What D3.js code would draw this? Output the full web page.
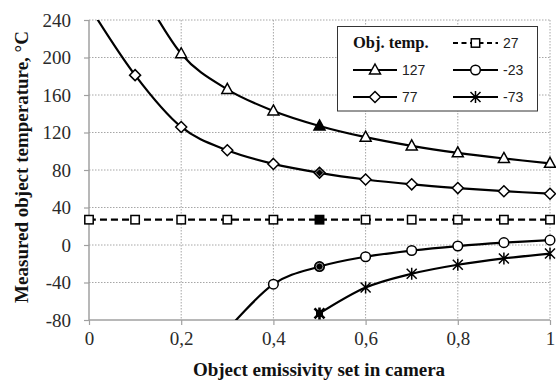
<!DOCTYPE html>
<html><head><meta charset="utf-8">
<script src="https://cdnjs.cloudflare.com/ajax/libs/d3/7.8.5/d3.min.js"></script>
<style>body{margin:0;background:#fff}svg{display:block}</style>
</head><body><svg id="c" width="556" height="381"></svg>
<script>
// ---- data ----
const emissivity = [0, 0.1, 0.2, 0.3, 0.4, 0.5, 0.6, 0.7, 0.8, 0.9, 1];
const seriesNames = ["127", "77", "27", "-23", "-73"];
const t127 = [null, 283, 204, 166, 143, 127, 115, 105.7, 98.3, 92.3, 87.1];
const t77  = [255, 181.2, 125.9, 101, 86.5, 77, 69.9, 64.7, 60.7, 57.4, 54.7];
const t27  = [27, 27, 27, 27, 27, 27, 27, 27, 27, 27, 27];
const tm23 = [null, null, null, -90.5, -41.8, -23, -12.5, -5.9, -1.1, 2.5, 5.2];
const tm73 = [null, null, null, null, null, -73, -45.4, -30.7, -21.1, -14.3, -9.1];
const markerStart = [2, 1, 0, 4, 5]; // first visible marker index per series
const trueEmissivity = 0.5;
const xTickValues = [0, 0.2, 0.4, 0.6, 0.8, 1];
const xTickLabels = ["0", "0,2", "0,4", "0,6", "0,8", "1"];
const yTickValues = [-80, -40, 0, 40, 80, 120, 160, 200, 240];
const yTickLabels = ["-80", "-40", "0", "40", "80", "120", "160", "200", "240"];
const legendTitle = "Obj. temp.";
const xTitle = "Object emissivity set in camera";
const yTitle = "Measured object temperature, °C";

const seriesValues = [t127, t77, t27, tm23, tm73];
const markerTypes = ["triangle", "diamond", "square", "circle", "star"];
const dashed = [false, false, true, false, false];

// ---- layout ----
const svg = d3.select("#c");
const L = 89, R = 550, T = 20, B = 320;
const x = d3.scaleLinear().domain([0, 1]).range([L, R]);
const y = d3.scaleLinear().domain([-80, 240]).range([B, T]);
const serif = "'Liberation Serif','Times New Roman',serif";
const sans = "'Liberation Sans',Arial,sans-serif";

svg.append("defs").append("clipPath").attr("id", "plotclip")
  .append("rect").attr("x", L).attr("y", T).attr("width", R - L).attr("height", B - T);

// grid
const grid = svg.append("g");
grid.selectAll("line.h").data(yTickValues.filter(v => v > -80)).join("line")
  .attr("x1", L).attr("x2", R).attr("y1", d => y(d)).attr("y2", d => y(d))
  .attr("stroke", "#a6a6a6").attr("stroke-width", 1).attr("stroke-dasharray", "1.5,1.5");
grid.selectAll("line.v").data(xTickValues.filter(v => v > 0)).join("line")
  .attr("x1", d => x(d)).attr("x2", d => x(d)).attr("y1", T).attr("y2", B)
  .attr("stroke", "#a6a6a6").attr("stroke-width", 1).attr("stroke-dasharray", "1.5,1.5");

// axes
const xAxis = d3.axisBottom(x).tickValues(xTickValues).tickSize(5).tickPadding(7)
  .tickFormat((d, i) => xTickLabels[i]);
const yAxis = d3.axisLeft(y).tickValues(yTickValues).tickSize(5).tickPadding(13)
  .tickFormat((d, i) => yTickLabels[i]);
const gx = svg.append("g").attr("transform", `translate(0,${B})`).call(xAxis);
const gy = svg.append("g").attr("transform", `translate(${L},0)`).call(yAxis);
gx.attr("font-family", serif).attr("font-size", 19);
gy.attr("font-family", serif).attr("font-size", 19);
[gx, gy].forEach(g => {
  g.select(".domain").attr("stroke", "#a0a0a0").attr("stroke-width", 1.5);
  g.selectAll(".tick line").attr("stroke", "#a0a0a0").attr("stroke-width", 1.2);
  g.selectAll(".tick text").style("font-family", serif).style("font-size", "19px").attr("fill", "#2a2a2a");
});
gy.selectAll(".tick text").attr("dy", "0.34em");
gx.selectAll(".tick text").attr("dy", "0.71em");
gy.select(".domain").attr("d", `M0,${T}V${B}`);
gx.select(".domain").attr("d", `M${L},0H${R}`);

// titles
svg.append("text").attr("x", 319).attr("y", 376).attr("text-anchor", "middle")
  .style("font-family", serif).attr("font-weight", "bold").attr("font-size", 19).attr("fill", "#111")
  .text(xTitle);
svg.append("text").attr("transform", `translate(28,167) rotate(-90)`).attr("text-anchor", "middle")
  .style("font-family", serif).attr("font-weight", "bold").attr("font-size", 19).attr("fill", "#111")
  .text(yTitle);

// markers
function drawMarker(g, type, cx, cy, filled) {
  const fill = filled ? "#000" : "#fff";
  const s = 1.5;
  let el;
  if (type === "triangle") {
    el = g.append("path").attr("d", `M${cx},${cy - 6}L${cx + 5.5},${cy + 4}L${cx - 5.5},${cy + 4}Z`);
  } else if (type === "diamond") {
    el = g.append("path").attr("d", `M${cx},${cy - 5.5}L${cx + 5.5},${cy}L${cx},${cy + 5.5}L${cx - 5.5},${cy}Z`);
  } else if (type === "square") {
    el = g.append("rect").attr("x", cx - 4.2).attr("y", cy - 4.2).attr("width", 8.4).attr("height", 8.4);
  } else if (type === "circle") {
    el = g.append("circle").attr("cx", cx).attr("cy", cy).attr("r", 4.8);
  } else if (type === "star") {
    const r = 5;
    g.append("path").attr("d",
      `M${cx - r},${cy - r}L${cx + r},${cy + r}M${cx - r},${cy + r}L${cx + r},${cy - r}M${cx},${cy - r - 1}V${cy + r + 1}`)
      .attr("stroke", "#000").attr("stroke-width", filled ? 2.6 : 1.5).attr("fill", "none");
    if (filled) g.append("rect").attr("x", cx - 3.5).attr("y", cy - 3.5).attr("width", 7).attr("height", 7).attr("fill", "#000");
    return;
  }
  el.attr("fill", fill).attr("stroke", "#000").attr("stroke-width", s);
  if (filled && (type === "circle" || type === "diamond")) {
    const inner = el.clone(true).attr("fill", "#000").attr("stroke", "#fff").attr("stroke-width", 0.8);
    inner.attr("transform", `translate(${cx},${cy}) scale(0.72) translate(${-cx},${-cy})`);
  }
}

// series lines
const line = d3.line().defined(d => d[1] !== null)
  .x(d => x(d[0])).y(d => y(d[1])).curve(d3.curveCatmullRom.alpha(0));
const plot = svg.append("g").attr("clip-path", "url(#plotclip)");
const markG = svg.append("g");
const order = [2, 3, 4, 1, 0];
order.forEach(i => {
  const pts = emissivity.map((e, k) => [e, seriesValues[i][k]]).filter(d => d[1] !== null);
  plot.append("path").attr("d", line(pts)).attr("fill", "none").attr("stroke", "#000")
    .attr("stroke-width", 2.2).attr("stroke-dasharray", dashed[i] ? "7,4" : null);
});
order.forEach(i => {
  emissivity.forEach((e, k) => {
    const v = seriesValues[i][k];
    if (v === null || k < markerStart[i] || v > 240 || v < -80) return;
    drawMarker(markG, markerTypes[i], x(e), y(v), e === trueEmissivity);
  });
});

// legend
const lg = svg.append("g");
lg.append("rect").attr("x", 337.5).attr("y", 26.5).attr("width", 200).attr("height", 84.5)
  .attr("fill", "#fff").attr("stroke", "#333").attr("stroke-width", 1);
lg.append("text").attr("x", 353).attr("y", 48).style("font-family", serif).attr("font-weight", "bold")
  .attr("font-size", 16.5).attr("fill", "#111").text(legendTitle);
const legendSlots = [
  {i: 0, col: 0, row: 1}, {i: 1, col: 0, row: 2},
  {i: 2, col: 1, row: 0}, {i: 3, col: 1, row: 1}, {i: 4, col: 1, row: 2}
];
const rowY = [43, 70, 97];
const colX = [[353, 397, 402], [453, 498, 503]];
legendSlots.forEach(s => {
  const [x0, x1, tx] = colX[s.col];
  const cy = rowY[s.row];
  lg.append("line").attr("x1", x0).attr("x2", x1).attr("y1", cy).attr("y2", cy)
    .attr("stroke", "#000").attr("stroke-width", 2.2).attr("stroke-dasharray", dashed[s.i] ? "5,3.5" : null);
  drawMarker(lg, markerTypes[s.i], (x0 + x1) / 2, cy, false);
  lg.append("text").attr("x", tx).attr("y", cy + 5).style("font-family", sans).attr("font-size", 14)
    .attr("fill", "#222").text(seriesNames[s.i]);
});
</script>
</body></html>
